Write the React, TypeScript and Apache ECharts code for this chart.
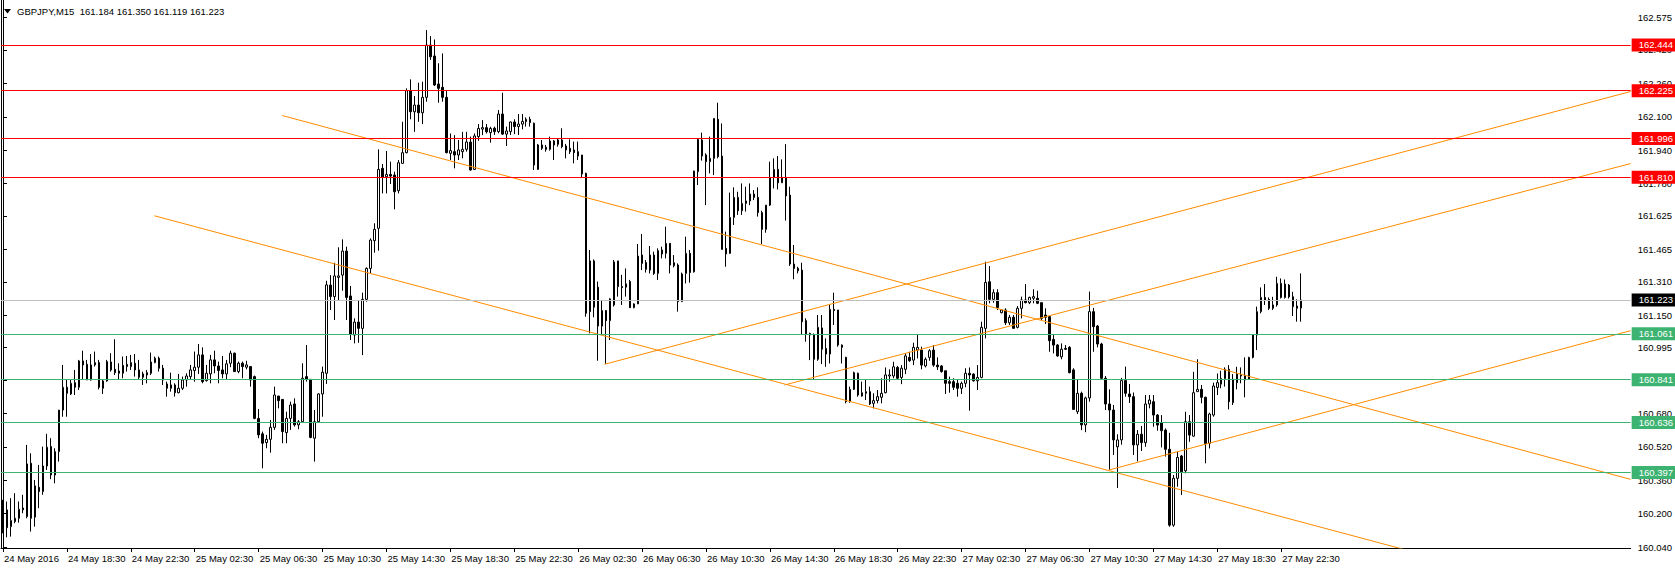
import React, { useEffect, useRef } from "react";
import * as echarts from "echarts";

const FONT = "'Liberation Sans', Arial, sans-serif";
const titleText = "GBPJPY,M15  161.184 161.350 161.119 161.223";

const xTickLabels = [
  "24 May 2016", "24 May 18:30", "24 May 22:30", "25 May 02:30", "25 May 06:30",
  "25 May 10:30", "25 May 14:30", "25 May 18:30", "25 May 22:30", "26 May 02:30",
  "26 May 06:30", "26 May 10:30", "26 May 14:30", "26 May 18:30", "26 May 22:30",
  "27 May 02:30", "27 May 06:30", "27 May 10:30", "27 May 14:30", "27 May 18:30",
  "27 May 22:30",
];

const yTicks = [
  162.575, 162.42, 162.26, 162.1, 161.94, 161.78, 161.625, 161.465, 161.31,
  161.15, 160.995, 160.84, 160.68, 160.52, 160.36, 160.2, 160.04,
];

const redLevels = [162.444, 162.225, 161.996, 161.81];
const greenLevels = [161.061, 160.841, 160.636, 160.397];
const bidPrice = 161.223;

// [startBar, startPrice, endBar, endPrice]
const trendLines = [
  [69.9, 162.106, 407.5, 160.364],
  [37.9, 161.626, 407.5, 159.739],
  [150.6, 160.915, 407.5, 162.221],
  [195.7, 160.816, 407.5, 161.876],
  [276.9, 160.409, 407.5, 161.076],
];

// M15 bars from 24 May 14:30: [open, high, low, close]
const ohlc = [
  [160.122, 160.266, 160.106, 160.237], [160.218, 160.258, 160.087, 160.133], [160.138, 160.274, 160.09, 160.167], [160.162, 160.298, 160.154, 160.178], [160.178, 160.258, 160.157, 160.221],
  [160.218, 160.29, 160.202, 160.227], [160.186, 160.529, 160.178, 160.438], [160.441, 160.489, 160.114, 160.178], [160.183, 160.361, 160.138, 160.333], [160.326, 160.433, 160.226, 160.306],
  [160.306, 160.521, 160.29, 160.428], [160.428, 160.582, 160.409, 160.518], [160.521, 160.561, 160.365, 160.385], [160.385, 160.513, 160.345, 160.497], [160.497, 160.696, 160.449, 160.696],
  [160.696, 160.912, 160.664, 160.805], [160.805, 160.84, 160.664, 160.776], [160.773, 160.84, 160.768, 160.824], [160.827, 160.888, 160.768, 160.805], [160.805, 160.936, 160.792, 160.931],
  [160.931, 160.98, 160.84, 160.912], [160.915, 160.936, 160.84, 160.84], [160.84, 160.964, 160.837, 160.912], [160.912, 160.976, 160.904, 160.923], [160.923, 160.936, 160.795, 160.805],
  [160.8, 160.84, 160.773, 160.835], [160.835, 160.936, 160.832, 160.928], [160.926, 160.968, 160.88, 160.888], [160.891, 161.035, 160.864, 160.875], [160.883, 160.92, 160.84, 160.872],
  [160.872, 160.952, 160.848, 160.91], [160.904, 160.955, 160.88, 160.915], [160.904, 160.96, 160.888, 160.923], [160.92, 160.964, 160.856, 160.888], [160.888, 160.936, 160.84, 160.853],
  [160.853, 160.88, 160.816, 160.869], [160.864, 160.888, 160.824, 160.875], [160.872, 160.971, 160.864, 160.926], [160.923, 160.952, 160.92, 160.944], [160.944, 160.952, 160.88, 160.896],
  [160.896, 160.912, 160.816, 160.84], [160.8, 160.832, 160.76, 160.821], [160.8, 160.875, 160.784, 160.816], [160.816, 160.824, 160.76, 160.779], [160.779, 160.869, 160.776, 160.8],
  [160.8, 160.856, 160.792, 160.84], [160.84, 160.872, 160.808, 160.859], [160.856, 160.912, 160.84, 160.888], [160.885, 160.976, 160.832, 160.901], [160.901, 161.012, 160.869, 160.96],
  [160.96, 160.996, 160.824, 160.832], [160.837, 160.912, 160.832, 160.872], [160.869, 160.96, 160.824, 160.936], [160.936, 160.98, 160.872, 160.907], [160.907, 160.928, 160.824, 160.885],
  [160.888, 160.955, 160.848, 160.869], [160.869, 160.936, 160.84, 160.917], [160.92, 160.98, 160.901, 160.968], [160.968, 160.971, 160.88, 160.88], [160.88, 160.928, 160.872, 160.92],
  [160.92, 160.928, 160.848, 160.904], [160.901, 160.932, 160.891, 160.912], [160.904, 160.904, 160.808, 160.84], [160.856, 160.861, 160.652, 160.656], [160.656, 160.701, 160.561, 160.577],
  [160.582, 160.593, 160.417, 160.537], [160.54, 160.577, 160.513, 160.556], [160.556, 160.648, 160.492, 160.613], [160.613, 160.808, 160.601, 160.768], [160.763, 160.763, 160.704, 160.741],
  [160.747, 160.747, 160.537, 160.593], [160.588, 160.688, 160.537, 160.656], [160.656, 160.736, 160.601, 160.72], [160.725, 160.752, 160.617, 160.625], [160.625, 160.648, 160.604, 160.64],
  [160.64, 160.92, 160.636, 160.848], [160.856, 161.007, 160.832, 160.843], [160.843, 160.843, 160.561, 160.565], [160.561, 160.696, 160.449, 160.64], [160.64, 160.776, 160.636, 160.773],
  [160.773, 160.904, 160.664, 160.877], [160.872, 161.315, 160.821, 161.295], [161.294, 161.342, 161.175, 161.239], [161.239, 161.401, 161.127, 161.338], [161.331, 161.475, 161.223, 161.338],
  [161.342, 161.513, 161.267, 161.457], [161.457, 161.478, 161.127, 161.235], [161.242, 161.29, 161.031, 161.06], [161.055, 161.135, 161.015, 161.117], [161.117, 161.22, 161.018, 161.087],
  [161.087, 161.258, 160.959, 161.226], [161.226, 161.379, 161.215, 161.374], [161.374, 161.518, 161.35, 161.51], [161.507, 161.59, 161.449, 161.561], [161.566, 161.944, 161.459, 161.848],
  [161.853, 161.874, 161.733, 161.81], [161.813, 161.936, 161.733, 161.824], [161.824, 161.885, 161.778, 161.816], [161.821, 161.837, 161.657, 161.741], [161.746, 161.893, 161.733, 161.88],
  [161.877, 162.076, 161.874, 161.928], [161.928, 162.236, 161.925, 162.225], [162.225, 162.279, 162.088, 162.124], [162.124, 162.199, 162.028, 162.156], [162.156, 162.263, 162.076, 162.119],
  [162.119, 162.268, 162.065, 162.193], [162.193, 162.515, 162.172, 162.443], [162.443, 162.486, 162.372, 162.387], [162.391, 162.47, 162.247, 162.252], [162.257, 162.356, 162.167, 162.236],
  [162.241, 162.403, 162.172, 162.193], [162.193, 162.228, 161.925, 161.928], [161.925, 162.02, 161.893, 161.938], [161.933, 162.012, 161.853, 161.917], [161.917, 161.989, 161.893, 161.941],
  [161.933, 162.028, 161.901, 161.944], [161.944, 162.028, 161.933, 161.979], [161.979, 162.005, 161.842, 161.845], [161.848, 162.02, 161.845, 162.008], [162.005, 162.065, 161.985, 162.044],
  [162.041, 162.084, 162.012, 162.048], [162.048, 162.065, 162.02, 162.028], [162.024, 162.052, 161.976, 162.044], [162.045, 162.053, 162.013, 162.029], [162.029, 162.132, 162.021, 162.113],
  [162.113, 162.215, 162.013, 162.017], [162.017, 162.053, 161.96, 162.032], [162.029, 162.077, 162.013, 162.075], [162.075, 162.088, 162.017, 162.053], [162.053, 162.113, 162.013, 162.065],
  [162.065, 162.113, 162.04, 162.078], [162.077, 162.097, 162.053, 162.088], [162.088, 162.1, 162.053, 162.072], [162.069, 162.072, 161.845, 161.869], [161.848, 161.97, 161.845, 161.965],
  [161.965, 161.989, 161.941, 161.949], [161.954, 161.965, 161.933, 161.944], [161.944, 162.005, 161.938, 161.984], [161.984, 161.989, 161.893, 161.965], [161.968, 161.997, 161.957, 161.989],
  [161.989, 162.045, 161.949, 161.957], [161.96, 161.97, 161.901, 161.941], [161.949, 161.992, 161.922, 161.933], [161.941, 161.981, 161.877, 161.928], [161.933, 161.981, 161.893, 161.912],
  [161.917, 161.917, 161.81, 161.826], [161.829, 161.832, 161.143, 161.159], [161.167, 161.462, 161.063, 161.41], [161.41, 161.417, 161.14, 161.188], [161.284, 161.311, 160.932, 161.098],
  [161.098, 161.223, 161.055, 161.172], [161.172, 161.175, 160.917, 161.124], [161.124, 161.231, 161.031, 161.228], [161.199, 161.414, 161.191, 161.405], [161.41, 161.41, 161.239, 161.287],
  [161.287, 161.343, 161.199, 161.282], [161.284, 161.374, 161.239, 161.3], [161.311, 161.319, 161.186, 161.186], [161.186, 161.207, 161.183, 161.204], [161.204, 161.491, 161.204, 161.433],
  [161.438, 161.539, 161.366, 161.398], [161.402, 161.414, 161.354, 161.37], [161.366, 161.481, 161.35, 161.438], [161.438, 161.454, 161.343, 161.35], [161.35, 161.47, 161.319, 161.459],
  [161.462, 161.478, 161.422, 161.443], [161.446, 161.574, 161.422, 161.494], [161.494, 161.494, 161.35, 161.39], [161.401, 161.438, 161.379, 161.387], [161.39, 161.398, 161.167, 161.215],
  [161.215, 161.354, 161.215, 161.347], [161.35, 161.526, 161.302, 161.446], [161.446, 161.462, 161.306, 161.354], [161.358, 161.842, 161.354, 161.84], [161.837, 161.997, 161.773, 161.992],
  [161.989, 162.024, 161.89, 161.912], [161.917, 161.925, 161.677, 161.885], [161.885, 162.005, 161.829, 161.901], [161.901, 162.092, 161.821, 162.092], [162.088, 162.167, 161.901, 161.909],
  [161.912, 162.068, 161.465, 161.465], [161.47, 161.55, 161.382, 161.443], [161.446, 161.737, 161.443, 161.618], [161.618, 161.762, 161.582, 161.714], [161.714, 161.741, 161.63, 161.65],
  [161.65, 161.781, 161.63, 161.685], [161.685, 161.765, 161.646, 161.697], [161.697, 161.781, 161.677, 161.73], [161.73, 161.749, 161.701, 161.714], [161.714, 161.762, 161.622, 161.641],
  [161.641, 161.65, 161.491, 161.561], [161.561, 161.677, 161.545, 161.677], [161.677, 161.885, 161.673, 161.81], [161.81, 161.901, 161.757, 161.848], [161.848, 161.912, 161.752, 161.784],
  [161.784, 161.896, 161.784, 161.81], [161.81, 161.969, 161.603, 161.721], [161.725, 161.765, 161.386, 161.395], [161.395, 161.486, 161.322, 161.374], [161.374, 161.382, 161.35, 161.363],
  [161.366, 161.401, 161.055, 161.119], [161.124, 161.135, 161.023, 161.06], [161.063, 161.066, 160.935, 161.055], [161.055, 161.063, 160.843, 160.939], [160.939, 161.151, 160.932, 161.092],
  [161.089, 161.151, 160.916, 160.987], [160.991, 161.039, 160.903, 160.964], [160.964, 161.203, 160.919, 161.178], [161.178, 161.258, 161.103, 161.172], [161.175, 161.175, 160.999, 161.007],
  [161.007, 161.01, 160.919, 160.996], [160.948, 160.951, 160.728, 160.736], [160.736, 160.808, 160.731, 160.795], [160.795, 160.88, 160.792, 160.875], [160.872, 160.875, 160.76, 160.768],
  [160.763, 160.832, 160.76, 160.779], [160.776, 160.84, 160.744, 160.784], [160.784, 160.808, 160.72, 160.725], [160.728, 160.776, 160.704, 160.741], [160.741, 160.792, 160.728, 160.76],
  [160.757, 160.848, 160.728, 160.776], [160.779, 160.9, 160.776, 160.864], [160.859, 160.891, 160.832, 160.864], [160.859, 160.927, 160.848, 160.903], [160.9, 160.907, 160.843, 160.848],
  [160.852, 160.911, 160.82, 160.896], [160.891, 160.967, 160.868, 160.955], [160.948, 160.975, 160.927, 160.932], [160.935, 161.018, 160.911, 160.996], [160.983, 161.055, 160.943, 160.996],
  [160.983, 160.999, 160.891, 160.911], [160.907, 160.948, 160.9, 160.939], [160.948, 160.987, 160.932, 160.98], [160.983, 161.007, 160.903, 160.911], [160.911, 160.948, 160.888, 160.903],
  [160.907, 160.911, 160.875, 160.88], [160.884, 160.884, 160.773, 160.824], [160.832, 160.856, 160.779, 160.824], [160.832, 160.848, 160.792, 160.805], [160.824, 160.843, 160.76, 160.8],
  [160.8, 160.832, 160.773, 160.824], [160.824, 160.896, 160.805, 160.872], [160.872, 160.9, 160.693, 160.864], [160.868, 160.872, 160.832, 160.836], [160.836, 160.911, 160.792, 160.852],
  [160.852, 161.119, 160.848, 161.092], [161.087, 161.406, 161.039, 161.307], [161.31, 161.385, 161.207, 161.226], [161.226, 161.274, 161.21, 161.258], [161.258, 161.274, 161.175, 161.187],
  [161.162, 161.178, 161.159, 161.175], [161.175, 161.183, 161.103, 161.114], [161.114, 161.151, 161.103, 161.14], [161.14, 161.151, 161.087, 161.087], [161.092, 161.194, 161.087, 161.183],
  [161.183, 161.239, 161.135, 161.223], [161.223, 161.299, 161.207, 161.21], [161.21, 161.239, 161.203, 161.235], [161.231, 161.274, 161.207, 161.239], [161.231, 161.267, 161.203, 161.207],
  [161.21, 161.21, 161.127, 161.135], [161.151, 161.183, 161.108, 161.14], [161.143, 161.146, 160.975, 161.028], [161.034, 161.055, 160.967, 161.007], [161.007, 161.012, 160.951, 160.955],
  [160.951, 161.015, 160.939, 160.987], [160.991, 161.007, 160.983, 160.987], [160.996, 161.002, 160.872, 160.875], [160.888, 160.896, 160.696, 160.699], [160.688, 160.84, 160.677, 160.776],
  [160.776, 160.784, 160.6, 160.625], [160.625, 160.76, 160.59, 160.754], [160.754, 161.263, 160.736, 161.167], [161.167, 161.185, 160.975, 161.095], [161.098, 161.103, 160.996, 161.012],
  [161.012, 161.018, 160.843, 160.848], [160.848, 160.859, 160.696, 160.725], [160.725, 160.795, 160.409, 160.696], [160.696, 160.72, 160.481, 160.553], [160.52, 160.58, 160.323, 160.553],
  [160.553, 160.85, 160.53, 160.837], [160.837, 160.904, 160.76, 160.776], [160.773, 160.821, 160.73, 160.76], [160.76, 160.78, 160.481, 160.529], [160.529, 160.6, 160.45, 160.58],
  [160.58, 160.62, 160.5, 160.54], [160.54, 160.768, 160.52, 160.725], [160.725, 160.768, 160.704, 160.744], [160.736, 160.768, 160.616, 160.672], [160.672, 160.677, 160.597, 160.624],
  [160.635, 160.672, 160.517, 160.597], [160.6, 160.608, 160.473, 160.508], [160.508, 160.587, 160.137, 160.145], [160.145, 160.385, 160.137, 160.369], [160.369, 160.497, 160.329, 160.469],
  [160.476, 160.481, 160.289, 160.401], [160.405, 160.688, 160.393, 160.64], [160.64, 160.672, 160.544, 160.576], [160.571, 160.879, 160.568, 160.779], [160.784, 160.939, 160.784, 160.795],
  [160.795, 160.816, 160.728, 160.757], [160.757, 160.76, 160.441, 160.536], [160.536, 160.683, 160.512, 160.677], [160.672, 160.827, 160.664, 160.811], [160.804, 160.871, 160.768, 160.827],
  [160.82, 160.884, 160.8, 160.847], [160.847, 160.9, 160.808, 160.891], [160.891, 160.911, 160.699, 160.736], [160.731, 160.868, 160.72, 160.843], [160.827, 160.903, 160.795, 160.868],
  [160.859, 160.9, 160.824, 160.863], [160.863, 160.948, 160.757, 160.84], [160.843, 160.951, 160.84, 160.948], [160.948, 161.06, 160.943, 161.055], [161.055, 161.191, 160.983, 161.167],
  [161.167, 161.283, 161.159, 161.235], [161.235, 161.299, 161.199, 161.223], [161.226, 161.235, 161.175, 161.183], [161.183, 161.238, 161.175, 161.199], [161.199, 161.334, 161.191, 161.302],
  [161.302, 161.326, 161.23, 161.235], [161.235, 161.321, 161.23, 161.299], [161.294, 161.299, 161.23, 161.238], [161.238, 161.262, 161.146, 161.191], [161.194, 161.226, 161.119, 161.183],
  [161.184, 161.35, 161.119, 161.223],
];

const SLOTS = 408;
const ORANGE = "#FF8C00";

export default function App() {
  const ref = useRef<HTMLDivElement>(null);

  useEffect(() => {
    const chart = echarts.init(ref.current as HTMLDivElement, null, { renderer: "svg" });
    const cats = Array.from({ length: SLOTS }, (_, i) => String(i));
    const candleData = ohlc.map(([o, h, l, c]) => [o, c, l, h]);
    const tickShown = (i: number) => i % 16 === 0 && i / 16 < xTickLabels.length;

    const level = (v: number, lineColor: string, boxColor: string) => ({
      yAxis: v,
      lineStyle: { color: lineColor, width: 1, type: "solid" },
      label: {
        show: true,
        position: "end",
        distance: 1,
        formatter: v.toFixed(3),
        color: "#fff",
        backgroundColor: boxColor,
        padding: [2, 4, 1, 7],
        fontSize: 9.5,
        fontFamily: FONT,
      },
    });

    const levelData = [
      ...redLevels.map((v) => level(v, "#FF0000", "#FF0000")),
      ...greenLevels.map((v) => level(v, "#3CB371", "#3CB371")),
      level(bidPrice, "#C0C0C0", "#000000"),
    ];

    chart.setOption({
      animation: false,
      backgroundColor: "#ffffff",
      title: {
        text: titleText,
        left: 17,
        top: 6,
        padding: 0,
        textStyle: { fontSize: 9.5, fontWeight: "normal", fontFamily: FONT, color: "#000" },
      },
      graphic: [
        {
          type: "polygon",
          shape: { points: [[4, 9], [11, 9], [7.5, 13.5]] },
          style: { fill: "#000" },
        },
      ],
      grid: { left: 1, right: 42, top: 0, bottom: 23, containLabel: false },
      xAxis: [
        {
          type: "category",
          data: cats,
          boundaryGap: true,
          axisLine: { show: true, onZero: false, lineStyle: { color: "#000", width: 1 } },
          axisTick: {
            show: true,
            alignWithLabel: true,
            interval: (i: number) => tickShown(i),
            length: 4,
            lineStyle: { color: "#000" },
          },
          axisLabel: {
            show: true,
            interval: (i: number) => tickShown(i),
            formatter: (_v: string, i: number) => xTickLabels[i / 16] ?? "",
            align: "left",
            margin: 5,
            padding: [0, 0, 0, 1],
            color: "#000",
            fontSize: 9.5,
            fontFamily: FONT,
          },
          splitLine: { show: false },
        },
        { type: "value", min: -0.5, max: SLOTS - 0.5, show: false },
      ],
      yAxis: [
        {
          type: "value",
          position: "right",
          min: 160.0355,
          max: 162.659,
          axisLine: { show: true, lineStyle: { color: "#000", width: 1 } },
          axisTick: {
            show: true,
            inside: false,
            length: 4,
            customValues: yTicks,
            lineStyle: { color: "#000" },
          },
          axisLabel: {
            show: true,
            customValues: yTicks,
            formatter: (v: number) => v.toFixed(3),
            margin: 7,
            color: "#000",
            fontSize: 9.5,
            fontFamily: FONT,
          },
          splitLine: { show: false },
        },
        {
          type: "value",
          position: "left",
          min: 160.0355,
          max: 162.659,
          axisLine: { show: true, lineStyle: { color: "#000", width: 1 } },
          axisTick: { show: false },
          axisLabel: { show: false },
          splitLine: { show: false },
        },
      ],
      series: [
        {
          type: "candlestick",
          data: candleData,
          barWidth: 2,
          xAxisIndex: 0,
          yAxisIndex: 0,
          itemStyle: {
            color: "#ffffff",
            color0: "#000000",
            borderColor: "#000000",
            borderColor0: "#000000",
            borderWidth: 1,
          },
          z: 2,
          silent: true,
        },
        ...trendLines.map(([x1, p1, x2, p2]) => ({
          type: "line",
          xAxisIndex: 1,
          yAxisIndex: 0,
          data: [[x1, p1], [x2, p2]],
          symbol: "none",
          lineStyle: { color: ORANGE, width: 1 },
          clip: true,
          silent: true,
          z: 3,
        })),
        {
          type: "line",
          xAxisIndex: 0,
          yAxisIndex: 0,
          data: [],
          clip: false,
          silent: true,
          z: 4,
          markLine: {
            silent: true,
            symbol: ["none", "none"],
            precision: 3,
            data: levelData,
          },
        },
      ],
    });

    return () => chart.dispose();
  }, []);

  return (
    <div
      ref={ref}
      style={{ position: "absolute", left: 0, top: 0, width: 1675, height: 571 }}
    />
  );
}
